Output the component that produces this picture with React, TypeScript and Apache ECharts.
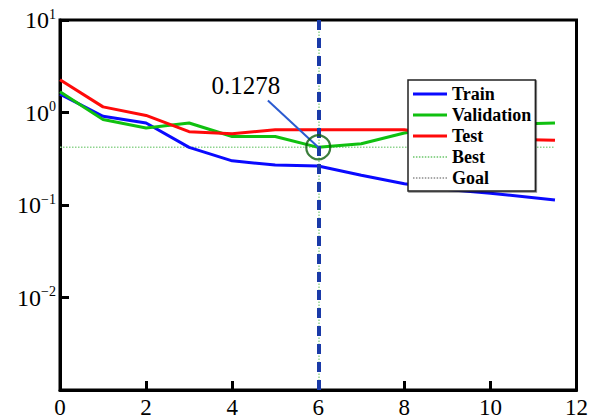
import React, { useEffect, useRef } from 'react';
import * as echarts from 'echarts';

// Epochs (x) and performance values (log scale)
const epochs = [0, 1, 2, 3, 4, 5, 6, 7, 8, 9, 10, 11.5];
const train = [1.58, 0.91, 0.77, 0.42, 0.3, 0.27, 0.264, 0.21, 0.17, 0.147, 0.134, 0.113];
const validation = [1.68, 0.84, 0.68, 0.77, 0.55, 0.55, 0.42, 0.46, 0.6, 0.7, 0.74, 0.77];
const test = [2.26, 1.15, 0.93, 0.62, 0.59, 0.65, 0.65, 0.65, 0.65, 0.56, 0.52, 0.5];

const bestEpoch = 6;
const bestValue = 0.42;
const bestLabel = '0.1278';
const bestLineRange = [0, 11.5];

const legendNames = ['Train', 'Validation', 'Test', 'Best', 'Goal'];
const xTicks = [0, 2, 4, 6, 8, 10, 12];
const yRange = [0.001, 10];

// annotation anchor points (data coordinates)
const arrowStart = [4.83, 1.35];
const labelAt = [4.32, 1.95];

// dotted legend icon path (34 x 2)
const dottedIcon = (() => {
  let d = 'path://';
  for (let x = 0; x < 34; x += 3) d += `M${x},0h1.5v2h-1.5z`;
  return d;
})();

export default function App() {
  const ref = useRef<HTMLDivElement>(null);

  useEffect(() => {
    const chart = echarts.init(ref.current!, null, { renderer: 'svg' });
    const serif = "'Liberation Serif','Times New Roman',serif";
    const pairs = (ys: number[]) => epochs.map((x, i) => [x, ys[i]]);
    const lineSeries = (name: string, ys: number[], color: string) => ({
      name,
      type: 'line',
      data: pairs(ys),
      symbol: 'none',
      lineStyle: { color, width: 3 },
      itemStyle: { color },
      z: 3,
    });

    chart.setOption({
      animation: false,
      backgroundColor: '#ffffff',
      grid: {
        left: 60,
        top: 20,
        right: 14,
        bottom: 27,
        show: true,
        borderColor: '#000',
        borderWidth: 3,
      },
      legend: {
        data: legendNames.map((name, i) => ({
          name,
          icon: i < 3 ? 'rect' : dottedIcon,
        })),
        orient: 'vertical',
        left: 408,
        top: 80,
        padding: [5, 4, 4, 5],
        itemWidth: 34,
        itemHeight: 3,
        itemGap: 3,
        backgroundColor: '#ffffff',
        borderColor: '#222',
        borderWidth: 1.5,
        shadowColor: 'rgba(0,0,0,0.45)',
        shadowOffsetX: 1,
        shadowOffsetY: 1,
        shadowBlur: 1,
        textStyle: {
          fontFamily: serif,
          fontWeight: 'bold',
          fontSize: 18,
          lineHeight: 18,
          color: '#000',
        },
      },
      xAxis: {
        type: 'value',
        min: xTicks[0],
        max: xTicks[xTicks.length - 1],
        interval: 2,
        axisLine: { show: true, lineStyle: { color: '#000', width: 3 } },
        axisTick: { show: true, inside: true, length: 9, lineStyle: { color: '#000', width: 3 } },
        axisLabel: { color: '#000', fontFamily: serif, fontSize: 23, margin: 6 },
        splitLine: { show: false },
      },
      yAxis: {
        type: 'log',
        logBase: 10,
        min: yRange[0],
        max: yRange[1],
        axisLine: { show: true, lineStyle: { color: '#000', width: 3 } },
        axisTick: { show: true, inside: true, length: 9, lineStyle: { color: '#000', width: 3 } },
        splitLine: { show: false },
        axisLabel: {
          margin: 4,
          formatter: (v: number) => {
            if (v < 0.002) return '';
            const e = Math.round(Math.log10(v));
            const s = e < 0 ? '\u2212' + Math.abs(e) : String(e);
            return `{b|10}{s|${s}}`;
          },
          rich: {
            b: { fontFamily: serif, fontSize: 24, color: '#000', lineHeight: 26 },
            s: { fontFamily: serif, fontSize: 14, color: '#000', lineHeight: 16, verticalAlign: 'top' },
          },
        },
      },
      series: [
        lineSeries('Train', train, '#0a0aff'),
        lineSeries('Validation', validation, '#10c010'),
        lineSeries('Test', test, '#ff0a0a'),
        {
          name: 'Best',
          type: 'line',
          data: bestLineRange.map((x) => [x, bestValue]),
          symbol: 'none',
          lineStyle: { color: '#8fd48f', width: 1.5, type: 'dotted' },
          itemStyle: { color: '#8fd48f' },
          z: 2,
          markLine: {
            silent: true,
            symbol: ['none', 'none'],
            label: { show: false },
            data: [
              { xAxis: bestEpoch, lineStyle: { color: '#8fd48f', width: 1.5, type: 'dotted' } },
              { xAxis: bestEpoch, lineStyle: { color: '#1a3aa8', width: 4, type: [10, 8] } },
            ],
          },
        },
        {
          name: 'Goal',
          type: 'line',
          data: [],
          symbol: 'none',
          lineStyle: { color: '#a8a8a8', width: 1.5, type: 'dotted' },
          itemStyle: { color: '#a8a8a8' },
        },
        {
          name: 'bestCircle',
          type: 'scatter',
          data: [[bestEpoch, bestValue]],
          symbol: 'circle',
          symbolSize: 24,
          itemStyle: { color: 'rgba(0,0,0,0)', borderColor: '#0b5e0b', borderWidth: 2.2 },
          z: 6,
          markLine: {
            silent: true,
            symbol: ['none', 'arrow'],
            symbolSize: [0, 11],
            label: { show: false },
            lineStyle: { color: '#2b5bd0', width: 2, type: 'solid' },
            data: [[{ coord: arrowStart }, { coord: [bestEpoch, bestValue] }]],
          },
          markPoint: {
            silent: true,
            symbol: 'circle',
            symbolSize: 1,
            itemStyle: { color: 'rgba(0,0,0,0)' },
            label: {
              show: true,
              position: 'inside',
              formatter: bestLabel,
              fontFamily: serif,
              fontSize: 25,
              color: '#000',
            },
            data: [{ coord: labelAt }],
          },
        },
      ],
    });
    return () => chart.dispose();
  }, []);

  return (
    <div
      ref={ref}
      style={{ position: 'absolute', left: 0, top: 0, width: 591, height: 419 }}
    />
  );
}
